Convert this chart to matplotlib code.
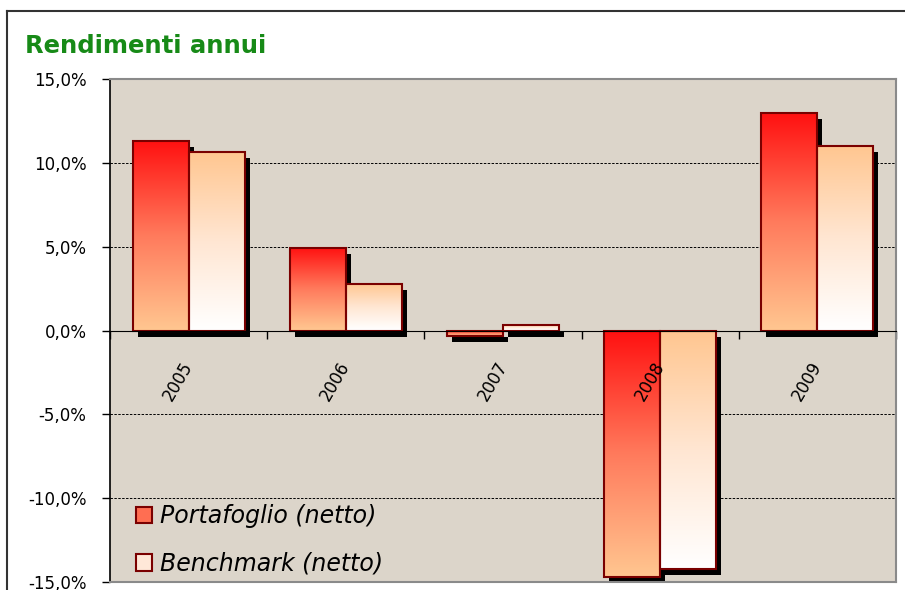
import numpy as np
import matplotlib
matplotlib.use("Agg")
import matplotlib.pyplot as plt
from matplotlib.colors import LinearSegmentedColormap
from matplotlib.patches import Patch
from matplotlib.lines import Line2D
from matplotlib.transforms import ScaledTranslation

# ---- data ----
years = ["2005", "2006", "2007", "2008", "2009"]
portafoglio = [11.3, 4.95, -0.35, -14.7, 12.95]
benchmark = [10.65, 2.8, 0.35, -14.25, 11.0]
series_names = ["Portafoglio (netto)", "Benchmark (netto)"]
yticks = [-15, -10, -5, 0, 5, 10, 15]

# ---- style ----
bg_plot = "#DCD5CA"
edge = "#7A0000"
title_green = "#178A17"
cmap_p = LinearSegmentedColormap.from_list("p", ["#FF1010", "#FF7A5C", "#FFC690"])
cmap_b = LinearSegmentedColormap.from_list("b", ["#FFC690", "#FFE6D2", "#FFFFFF"])

fig = plt.figure(figsize=(9.05, 5.9), dpi=100)
fig.patch.set_facecolor("white")
ax = fig.add_axes([110/905, 8/590, 786/905, 503/590])
ax.set_facecolor(bg_plot)

x = np.arange(len(years))
w = 0.356
grad = np.linspace(0, 1, 256).reshape(-1, 1)

shadow = ax.transData + ScaledTranslation(5/100, -6/100, fig.dpi_scale_trans)

# shadows first
for vals, off in ((portafoglio, -w/2), (benchmark, w/2)):
    ax.bar(x + off, vals, width=w, color="black", transform=shadow, zorder=2, linewidth=0)

# gradient bars
for vals, off, cm in ((portafoglio, -w/2, cmap_p), (benchmark, w/2, cmap_b)):
    bars = ax.bar(x + off, vals, width=w, facecolor="none", edgecolor=edge, linewidth=1.5, zorder=4)
    for b, v in zip(bars, vals):
        x0 = b.get_x()
        ax.imshow(grad, cmap=cm, extent=[x0, x0 + w, min(0, v), max(0, v)],
                  aspect="auto", zorder=3, interpolation="bilinear")

ax.set_xlim(-0.5, len(years) - 0.5)
ax.set_ylim(yticks[0], yticks[-1])

# grid
ax.set_axisbelow(True)
ax.yaxis.grid(True, color="black", linestyle=(0, (2.5, 1.5)), linewidth=0.7)

# y axis
ax.set_yticks(yticks)
ax.set_yticklabels([f"{v:.1f}%".replace(".", ",") for v in yticks], fontsize=12)
ax.tick_params(axis="y", direction="out", length=6, width=1, color="black", pad=11)

# x axis at zero
ax.spines["bottom"].set_position(("data", 0))
ax.spines["bottom"].set_color("black")
ax.spines["bottom"].set_zorder(5)
ax.spines["left"].set_color("black")
ax.spines["left"].set_linewidth(1.2)
for s in ("top", "right"):
    ax.spines[s].set_color("#8A8A8A")
    ax.spines[s].set_linewidth(1.5)
ax.plot([0, 1], [0, 0], transform=ax.transAxes, color="#8A8A8A", lw=1.5, clip_on=False, zorder=6)

boundaries = np.arange(len(years) + 1) - 0.5
ax.set_xticks(boundaries)
ax.set_xticklabels([""] * len(boundaries))
ax.tick_params(axis="x", direction="out", length=6, width=1, color="black")

lab_off = ScaledTranslation(0, -33/100, fig.dpi_scale_trans)
for xi, yr in zip(x, years):
    ax.text(xi, 0, yr, rotation=60, rotation_mode="anchor", ha="right", va="center",
            fontsize=12, transform=ax.transData + lab_off, zorder=10)

# legend
handles = [Patch(facecolor="#FF6E52", edgecolor=edge, linewidth=1.5),
           Patch(facecolor="#FFE8D8", edgecolor=edge, linewidth=1.5)]
leg = ax.legend(handles, series_names, loc="lower left", bbox_to_anchor=(0.027, 0.003),
                frameon=False, prop={"style": "italic", "size": 17},
                handlelength=0.68, handleheight=0.68, handletextpad=0.35,
                labelspacing=1.0, borderpad=0.2, borderaxespad=0)
leg.set_zorder(10)

# title
fig.text(25/905, 1 - 53/590, "Rendimenti annui", color=title_green, fontsize=17.5,
         fontweight="bold", ha="left", va="baseline")

# outer frame
fig.add_artist(Line2D([7/905, 7/905], [0, 1 - 11/590], color="#333333", lw=1.5))
fig.add_artist(Line2D([7/905, 1], [1 - 11/590, 1 - 11/590], color="#333333", lw=1.5))

fig.savefig("out.png", dpi=100)
